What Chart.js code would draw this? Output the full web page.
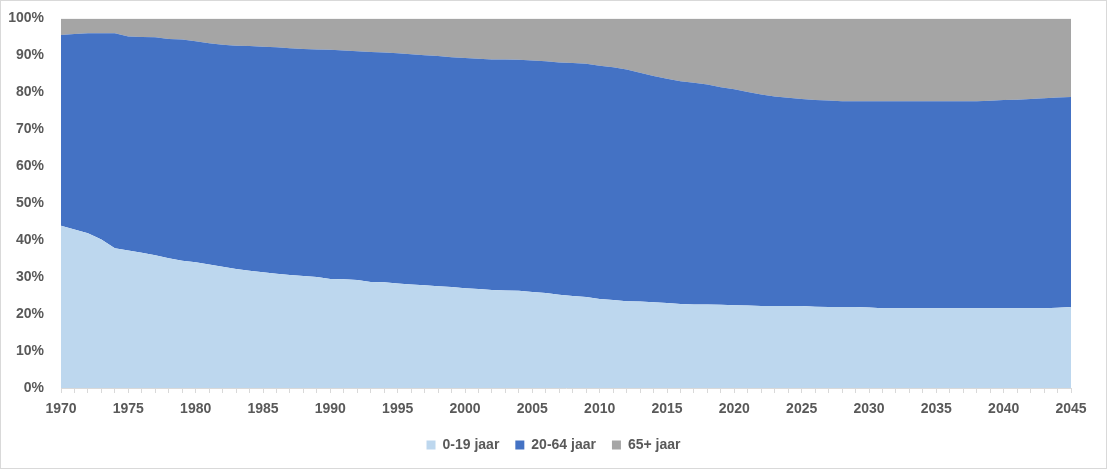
<!DOCTYPE html>
<html>
<head>
<meta charset="utf-8">
<script src="https://cdn.jsdelivr.net/npm/chart.js@4"></script>
<style>
  html, body { margin: 0; padding: 0; background: #fff; }
  #wrap { position: relative; width: 1105px; height: 467px; border: 1px solid #d9d9d9; }
</style>
</head>
<body>
<div id="wrap"><canvas id="grafiek"></canvas></div>
<script>
// Jaren 1970 - 2045
const jaren = [];
for (let j = 1970; j <= 2045; j++) jaren.push(String(j));

// Aandeel per leeftijdsgroep (%)
const jong = [
  43.9, 42.9, 41.9, 40.2, 37.8, 37.2, 36.6, 35.9, 35.1, 34.4,
  34.0, 33.4, 32.8, 32.2, 31.7, 31.3, 30.9, 30.6, 30.3, 30.0,
  29.5, 29.4, 29.2, 28.7, 28.6, 28.3, 28.0, 27.8, 27.5, 27.3,
  27.0, 26.8, 26.5, 26.4, 26.3, 26.0, 25.7, 25.2, 24.9, 24.6,
  24.1, 23.8, 23.5, 23.4, 23.2, 23.0, 22.7, 22.6, 22.6, 22.5,
  22.4, 22.3, 22.2, 22.2, 22.2, 22.2, 22.0, 21.9, 21.9, 21.9,
  21.8, 21.6, 21.6, 21.6, 21.6, 21.6, 21.6, 21.6, 21.6, 21.6,
  21.6, 21.6, 21.6, 21.6, 21.7, 21.9
];
const volwassen = [
  51.6, 52.9, 54.1, 55.8, 58.2, 57.9, 58.4, 59.0, 59.3, 59.9,
  59.8, 59.9, 60.1, 60.4, 60.8, 61.0, 61.3, 61.3, 61.4, 61.6,
  62.0, 61.9, 61.9, 62.2, 62.2, 62.3, 62.3, 62.2, 62.3, 62.2,
  62.3, 62.3, 62.4, 62.5, 62.5, 62.6, 62.7, 62.9, 63.0, 63.1,
  63.1, 63.0, 62.7, 61.9, 61.2, 60.7, 60.3, 60.0, 59.5, 58.9,
  58.4, 57.8, 57.2, 56.7, 56.3, 56.0, 55.9, 55.9, 55.7, 55.7,
  55.8, 56.0, 56.0, 56.0, 56.0, 56.0, 56.0, 56.0, 56.0, 56.1,
  56.3, 56.4, 56.6, 56.8, 56.9, 56.8
];
const ouderen = [
  4.5, 4.2, 4.0, 4.0, 4.0, 4.9, 5.0, 5.1, 5.6, 5.7,
  6.2, 6.7, 7.1, 7.4, 7.5, 7.7, 7.8, 8.1, 8.3, 8.4,
  8.5, 8.7, 8.9, 9.1, 9.2, 9.4, 9.7, 10.0, 10.2, 10.5,
  10.7, 10.9, 11.1, 11.1, 11.2, 11.4, 11.6, 11.9, 12.1, 12.3,
  12.8, 13.2, 13.8, 14.7, 15.6, 16.3, 17.0, 17.4, 17.9, 18.6,
  19.2, 19.9, 20.6, 21.1, 21.5, 21.8, 22.1, 22.2, 22.4, 22.4,
  22.4, 22.4, 22.4, 22.4, 22.4, 22.4, 22.4, 22.4, 22.4, 22.3,
  22.1, 22.0, 21.8, 21.6, 21.4, 21.3
];

const yTicks = [0, 10, 20, 30, 40, 50, 60, 70, 80, 90, 100];

const tekstKleur = '#595959';
const lettertype = { family: "'Liberation Sans', Arial, sans-serif", size: 14, weight: 'bold' };

function reeks(label, data, kleur, vulling) {
  return {
    label, data,
    backgroundColor: kleur,
    borderColor: kleur,
    borderWidth: 0,
    pointRadius: 0,
    tension: 0,
    fill: vulling
  };
}

new Chart(document.getElementById('grafiek'), {
  type: 'line',
  data: {
    labels: jaren,
    datasets: [
      reeks('0-19 jaar', jong, '#bdd7ee', 'origin'),
      reeks('20-64 jaar', volwassen, '#4472c4', '-1'),
      reeks('65+ jaar', ouderen, '#a5a5a5', '-1')
    ]
  },
  options: {
    responsive: true,
    maintainAspectRatio: false,
    animation: false,
    layout: { padding: { left: 0, right: 0, top: 3, bottom: 6 } },
    plugins: {
      tooltip: { enabled: false },
      legend: {
        position: 'bottom',
        labels: {
          boxWidth: 9, boxHeight: 9, padding: 16,
          color: tekstKleur, font: lettertype
        }
      }
    },
    scales: {
      x: {
        type: 'category',
        offset: false,
        afterFit: s => { s.height = 34; },
        grid: { display: true, drawOnChartArea: false, tickLength: 5, color: '#d9d9d9' },
        border: { color: '#d9d9d9' },
        ticks: {
          autoSkip: false, maxRotation: 0, padding: 8,
          color: tekstKleur, font: lettertype,
          callback: (v, i) => (Number(jaren[i]) % 5 === 0 ? jaren[i] : '')
        }
      },
      y: {
        stacked: true,
        min: 0, max: 100,
        afterBuildTicks: s => { s.ticks = yTicks.map(v => ({ value: v })); },
        afterFit: s => { s.width = 60; },
        grid: { display: false },
        border: { display: false },
        ticks: {
          padding: 9,
          color: tekstKleur, font: lettertype,
          callback: v => v + '%'
        }
      },
      // lege as rechts voor de witruimte naast het plotvlak
      rechts: {
        type: 'linear',
        position: 'right',
        afterFit: s => { s.width = 35; },
        grid: { display: false },
        border: { display: false },
        ticks: { display: false }
      }
    }
  }
});
</script>
</body>
</html>
